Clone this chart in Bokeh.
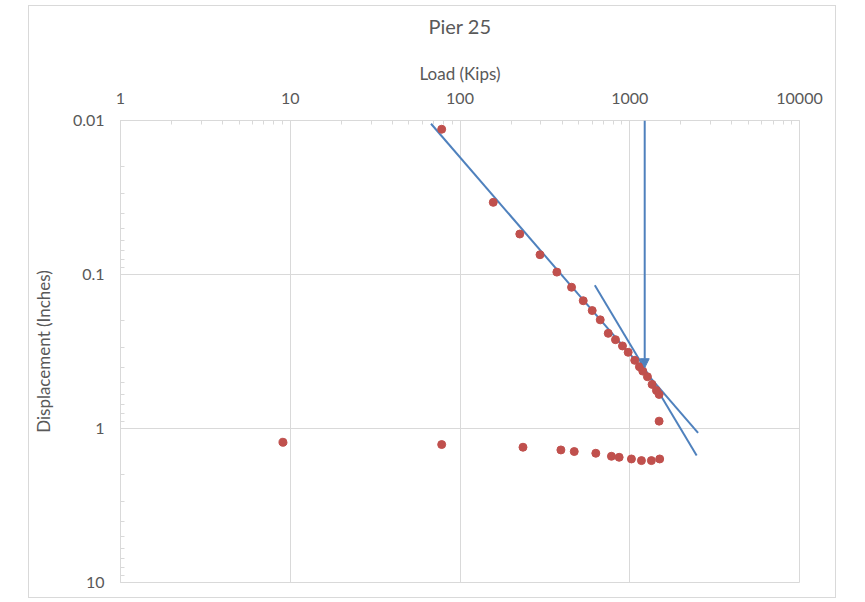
from bokeh.plotting import figure
from bokeh.embed import file_html
from bokeh.resources import INLINE
from bokeh.models import (FixedTicker, CustomJSTickFormatter, Arrow, NormalHead,
                          Range1d, LogAxis)

# ---- data ----
title_text = "Pier 25"
x_ticks = [1, 10, 100, 1000, 10000]
y_ticks = [0.01, 0.1, 1, 10]

load_measured = [78, 157, 225, 296, 372, 454, 532, 601, 670, 747, 824, 906,
                 979, 1070, 1140, 1193, 1271, 1354, 1436, 1489, 1489]
disp_measured = [0.0114, 0.034, 0.0546, 0.0744, 0.0965, 0.121, 0.148, 0.1715,
                 0.197, 0.241, 0.265, 0.291, 0.320, 0.361, 0.397, 0.424, 0.461,
                 0.517, 0.566, 0.601, 0.896]

load_predicted = [9.06, 78, 235, 393, 471, 631, 780, 866, 1023, 1172, 1341, 1501]
disp_predicted = [1.228, 1.271, 1.323, 1.378, 1.411, 1.448, 1.515, 1.538, 1.577,
                  1.616, 1.616, 1.577]

trend1_load = [67.5, 2526]
trend1_disp = [0.0105, 1.068]
trend2_load = [622.5, 2478]
trend2_disp = [0.1173, 1.499]

failure_load = 1225
failure_disp_top = 0.01
failure_disp_end = 0.403

# ---- figure ----
GRAY_TXT = "#595959"
GRID = "#d9d9d9"
BLUE = "#4F81BD"
RED = "#C0504D"
FONT = "Lato"

W, H = 808, 593
BL, BR, BT, BB = 90, 38, 114, 17

p = figure(width=W, height=H,
           x_axis_type="log", y_axis_type="log",
           x_range=Range1d(1, 10000), y_range=Range1d(10, 0.01),
           x_axis_location="above",
           output_backend="svg", toolbar_location=None,
           min_border_left=BL, min_border_right=BR,
           min_border_top=BT, min_border_bottom=BB)
p.margin = (5, 0, 0, 28)
p.styles = {"border": "1px solid #d9d9d9"}
p.background_fill_color = "white"
p.border_fill_color = "white"
p.outline_line_color = GRID

x_minor = [m * 10 ** k for k in range(0, 4) for m in range(2, 10)]
y_minor = [m * 10.0 ** k for k in (-2, -1, 0) for m in range(2, 10)]
p.xaxis.ticker = FixedTicker(ticks=x_ticks, minor_ticks=x_minor)
p.yaxis.ticker = FixedTicker(ticks=y_ticks, minor_ticks=y_minor)
fmt = "return tick.toString();"
p.xaxis.formatter = CustomJSTickFormatter(code=fmt)
p.yaxis.formatter = CustomJSTickFormatter(code=fmt)

p.xaxis.axis_label = "Load (Kips)"
p.yaxis.axis_label = "Displacement (Inches)"
for ax in (p.xaxis[0], p.yaxis[0]):
    ax.axis_line_color = GRID
    ax.major_tick_line_color = GRID
    ax.minor_tick_line_color = GRID
    ax.major_tick_in = 4
    ax.major_tick_out = 0
    ax.minor_tick_in = 4
    ax.minor_tick_out = 0
    ax.major_label_text_font = FONT
    ax.major_label_text_font_size = "16px"
    ax.major_label_text_color = GRAY_TXT
    ax.axis_label_text_font = FONT
    ax.axis_label_text_font_size = "17px"
    ax.axis_label_text_font_style = "normal"
    ax.axis_label_text_color = GRAY_TXT
p.xaxis.major_label_standoff = 17
p.xaxis.axis_label_standoff = 6
p.yaxis.major_label_standoff = 16
p.yaxis.axis_label_standoff = 16

# chart title drawn as the label of an empty axis above the load axis
title_axis = LogAxis(ticker=FixedTicker(ticks=[]), axis_label=title_text,
                     axis_line_color=None, major_tick_line_color=None,
                     minor_tick_line_color=None, major_label_standoff=0,
                     major_tick_in=0, major_tick_out=0,
                     minor_tick_in=0, minor_tick_out=0,
                     axis_label_standoff=22,
                     axis_label_text_align="right",
                     axis_label_text_font=FONT, axis_label_text_font_size="20px",
                     axis_label_text_font_style="normal",
                     axis_label_text_color=GRAY_TXT)
p.add_layout(title_axis, "above")

p.xgrid.grid_line_color = GRID
p.ygrid.grid_line_color = GRID

# trend lines
p.line(trend1_load, trend1_disp, line_color=BLUE, line_width=2)
p.line(trend2_load, trend2_disp, line_color=BLUE, line_width=2)

# points
p.scatter(load_measured, disp_measured, size=8, fill_color=RED, line_color=RED)
p.scatter(load_predicted, disp_predicted, size=8, fill_color=RED, line_color=RED)

# arrow
p.add_layout(Arrow(end=NormalHead(size=9, fill_color=BLUE, line_color=BLUE),
                   x_start=failure_load, y_start=failure_disp_top,
                   x_end=failure_load, y_end=failure_disp_end,
                   line_color=BLUE, line_width=2))

open("out.html", "w").write(file_html(p, INLINE))
